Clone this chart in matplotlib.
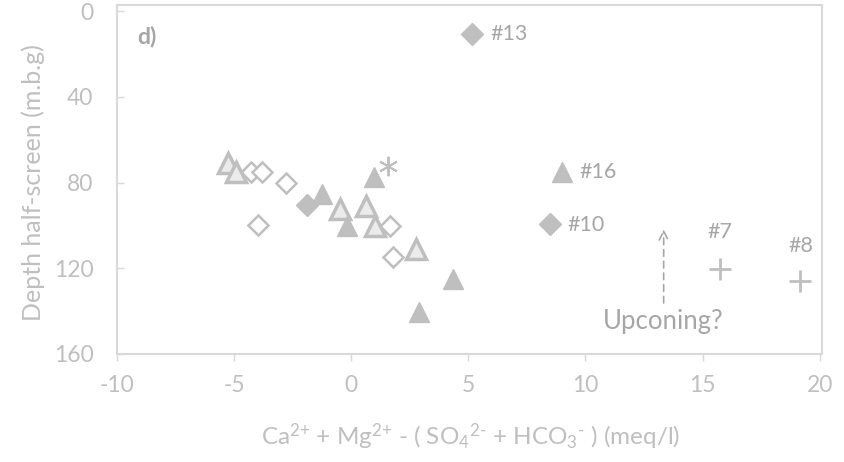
import matplotlib.pyplot as plt

plt.rcParams['font.family'] = ['Lato', 'DejaVu Sans']
plt.rcParams['mathtext.fontset'] = 'custom'
plt.rcParams['mathtext.rm'] = 'Lato'
plt.rcParams['mathtext.it'] = 'Lato:italic'
plt.rcParams['axes.unicode_minus'] = False

# filled triangles
tri_fill_x = [-1.25, -0.16, 0.97, 2.88, 4.35, 8.98]
tri_fill_y = [85.4, 100.4, 77.6, 140.5, 125.0, 75.0]
# open triangles
tri_open_x = [-5.26, -4.9, -0.49, 0.62, 1.0, 2.75]
tri_open_y = [70.8, 75.2, 92.4, 90.8, 100.4, 111.0]
# filled diamonds
dia_fill_x = [-1.9, 5.15, 8.5]
dia_fill_y = [90.3, 10.7, 99.5]
# open diamonds
dia_open_x = [-4.3, -3.8, -2.8, -3.98, 1.67, 1.78]
dia_open_y = [75.0, 75.0, 80.0, 100.0, 100.1, 114.9]
# asterisk
star_x = [1.57]
star_y = [72.2]
# plus
plus_x = [15.73, 19.18]
plus_y = [120.3, 125.8]

labels = ['#13', '#16', '#10', '#7', '#8']
label_x = [5.95, 9.75, 9.24, 15.73, 19.18]
label_y = [10.7, 75.0, 100.0, 103.0, 109.6]
label_ha = ['left', 'left', 'left', 'center', 'center']

grey = '#bfbfbf'
text_grey = '#a6a6a6'
axis_grey = '#d9d9d9'

fig = plt.figure(figsize=(8.45, 4.62), dpi=100)
ax = fig.add_axes([117 / 845, 1 - 354 / 462, (822 - 117) / 845, (354 - 5) / 462])

ax.plot(dia_open_x, dia_open_y, 'D', ms=10, mfc='white', mec=grey, mew=1.8, ls='none')
ax.plot(tri_open_x, tri_open_y, '^', ms=15, mfc='#ebebeb', mec=grey, mew=2.5, ls='none')
ax.plot(tri_fill_x, tri_fill_y, '^', ms=15, color=grey, ls='none')
ax.plot(dia_fill_x, dia_fill_y, 'D', ms=11, color=grey, ls='none')
ax.plot(star_x, star_y, marker=(6, 2, 0), ms=14, mec=grey, mew=1.4, ls='none')
ax.plot(plus_x, plus_y, '+', ms=16, mec=grey, mew=2, ls='none')

for t, x, y, ha in zip(labels, label_x, label_y, label_ha):
    ax.text(x, y, t, color=text_grey, fontsize=15.5, ha=ha, va='center')

ax.text(-9.15, 12, 'd)', color=text_grey, fontsize=16.5, fontweight='bold', va='center')

# upconing arrow
ax.annotate('', xy=(13.34, 100.5), xytext=(13.34, 137.5),
            arrowprops=dict(arrowstyle='->', color='#a6a6a6', lw=1.2, ls=(0, (4, 3)),
                            mutation_scale=16))
ax.text(13.34, 145, 'Upconing?', color=text_grey, fontsize=18.5, ha='center', va='center')

ax.set_xlim(-10, 20.1)
ax.set_ylim(160, -2.8)
ax.set_xticks([-10, -5, 0, 5, 10, 15, 20])
ax.set_yticks([0, 40, 80, 120, 160])

for s in ax.spines.values():
    s.set_color(axis_grey)
    s.set_linewidth(1.5)
ax.tick_params(colors=axis_grey, labelcolor=grey, labelsize=16.5, length=5, width=1)
ax.tick_params(axis='x', direction='out', pad=10)
ax.tick_params(axis='y', direction='in', pad=17)

ax.set_ylabel('Depth half-screen (m.b.g)', color=grey, fontsize=18, va='center')
ax.yaxis.set_label_coords(-0.119, 0.49)
ax.set_xlabel(r'Ca$^{\text{2+}}$ + Mg$^{\text{2+}}$ - ( SO$_{\text{4}}$$^{\text{2-}}$ + HCO$_{\text{3}}$$^{\text{-}}$ ) (meq/l)',
              color=grey, fontsize=17.5, va='center')
ax.xaxis.set_label_coords(0.502, -0.238)

plt.savefig('out.png', dpi=100)
